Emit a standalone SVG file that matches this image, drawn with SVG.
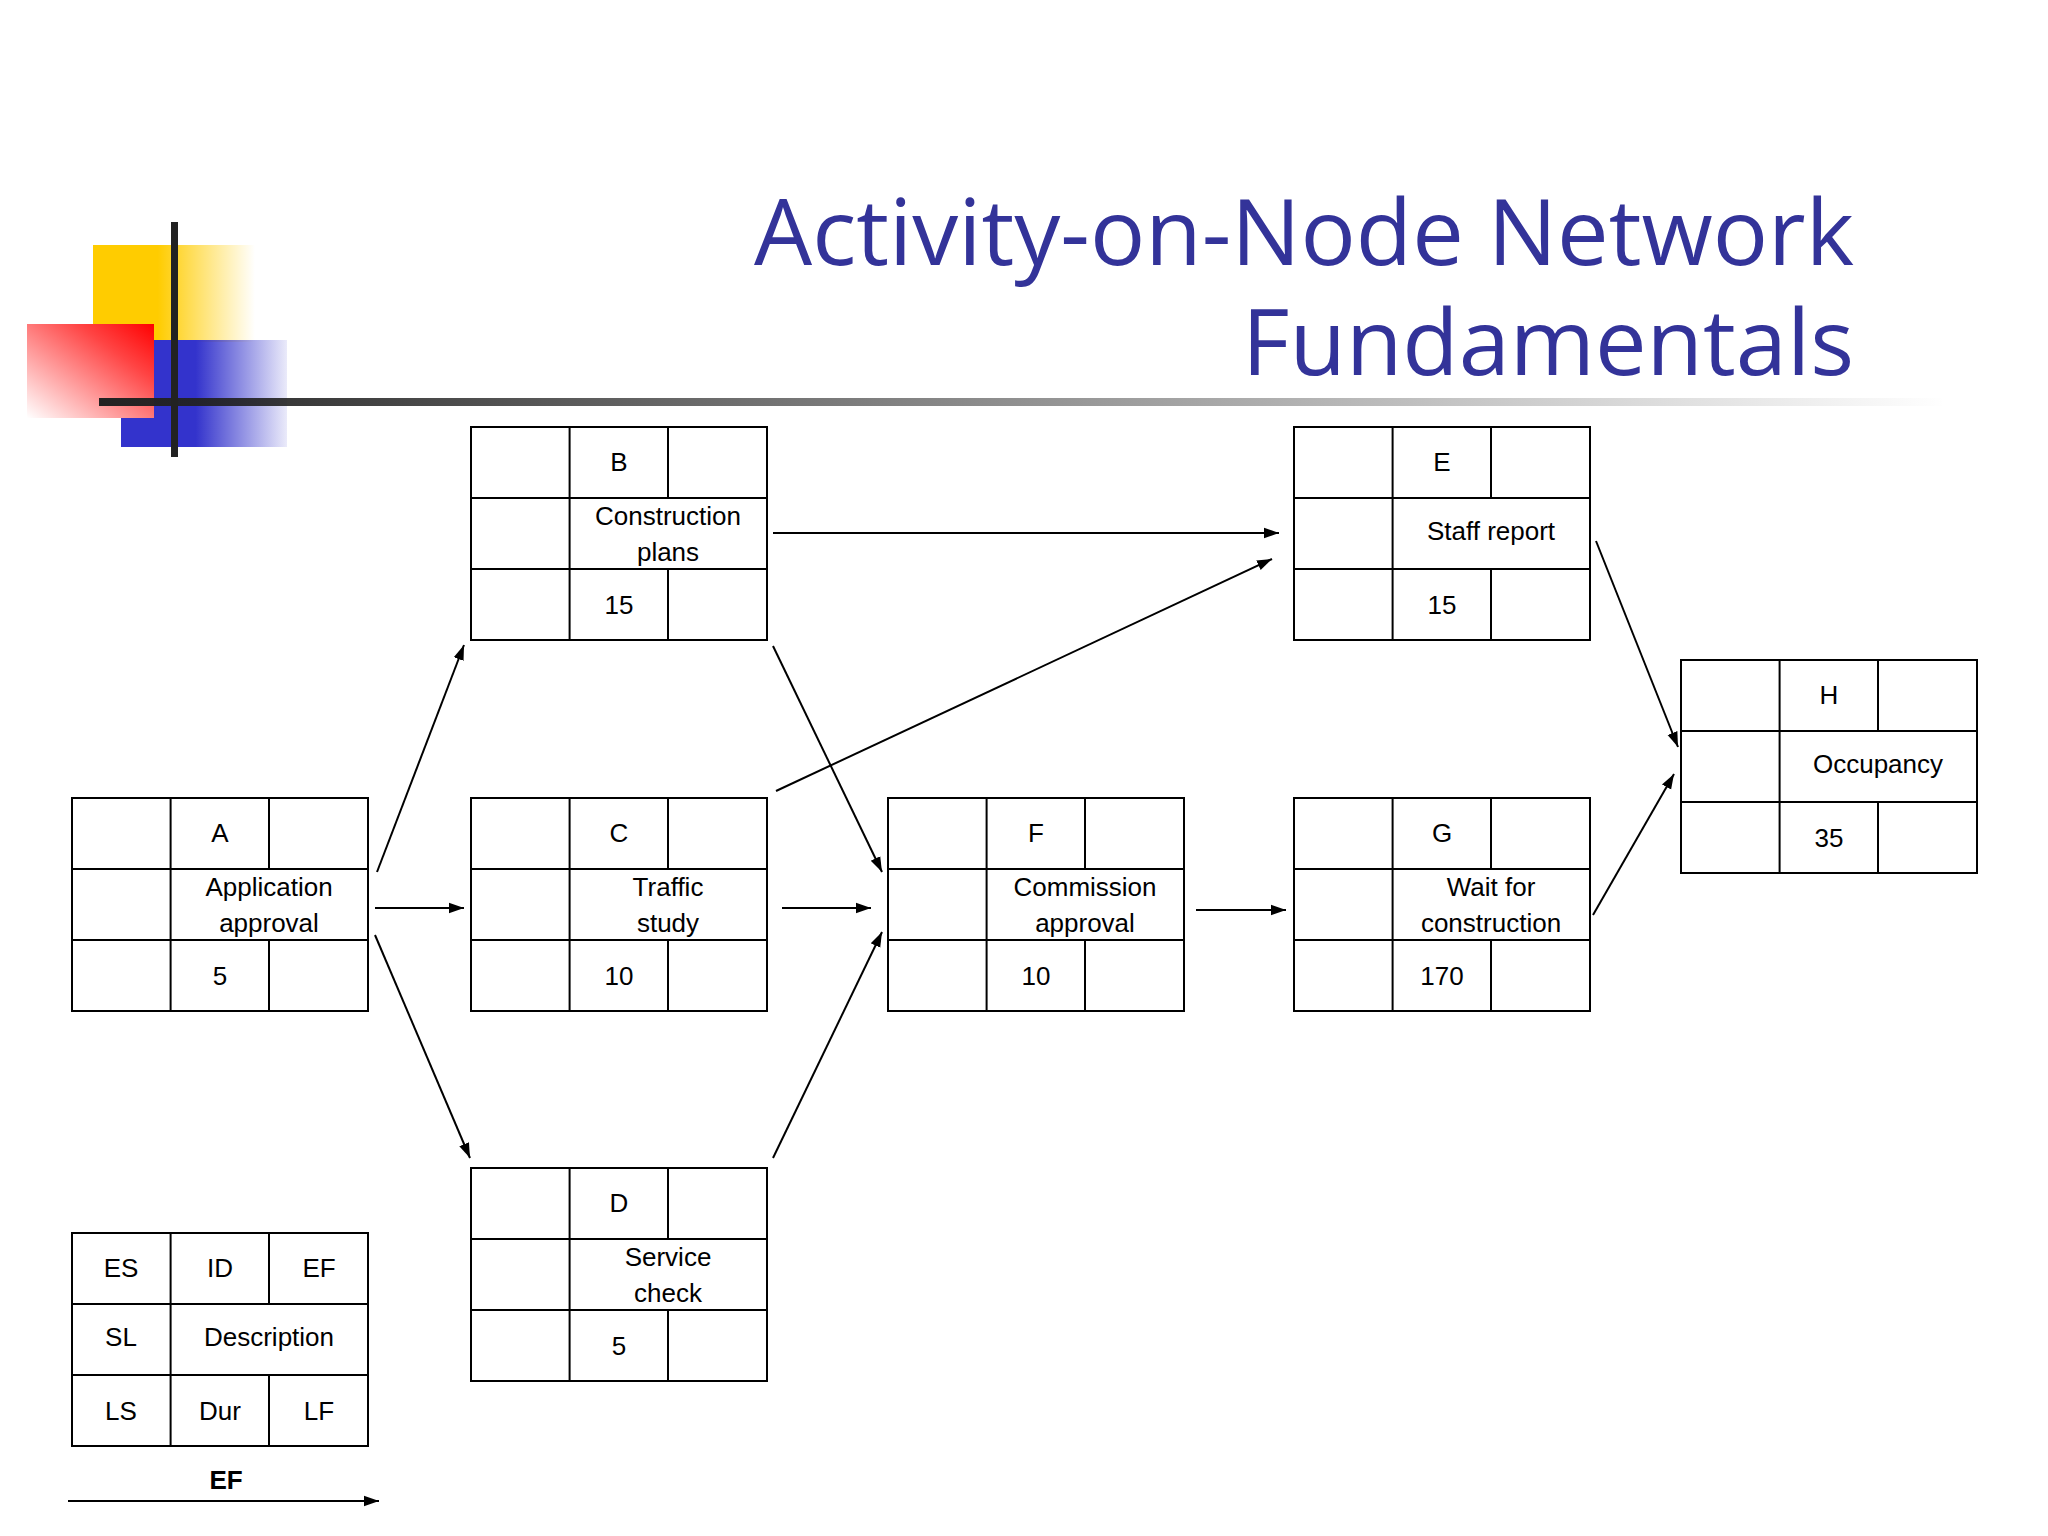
<svg xmlns="http://www.w3.org/2000/svg" width="2048" height="1536" viewBox="0 0 2048 1536">
<defs>
<linearGradient id="gy" x1="0" x2="1"><stop offset="0.4" stop-color="#ffcc00"/><stop offset="1" stop-color="#ffcc00" stop-opacity="0"/></linearGradient>
<linearGradient id="gr" x1="1" y1="0" x2="0" y2="1"><stop offset="0" stop-color="#ff0000"/><stop offset="0.3" stop-color="#ff4444"/><stop offset="1" stop-color="#ffffff"/></linearGradient>
<linearGradient id="gb" x1="0" x2="1"><stop offset="0.45" stop-color="#3333cc"/><stop offset="1" stop-color="#3333cc" stop-opacity="0.1"/></linearGradient>
<linearGradient id="gl" x1="0" x2="1"><stop offset="0" stop-color="#222"/><stop offset="1" stop-color="#222" stop-opacity="0"/></linearGradient>
<marker id="ah" viewBox="0 0 10 10" refX="10" refY="5" markerWidth="15" markerHeight="15" markerUnits="userSpaceOnUse" orient="auto"><path d="M0,1.5 L10,5 L0,8.5 z" fill="#000"/></marker>
<g id="grid">
<rect x="0" y="0" width="296" height="213" fill="#fff" stroke="#000" stroke-width="2"/>
<path d="M0,71 H296 M0,142 H296 M98.6,0 V213 M197,0 V71 M197,142 V213" stroke="#000" stroke-width="2" fill="none"/>
</g>
</defs>
<style>
text{font-family:"Liberation Sans",Arial,sans-serif;font-size:26px;fill:#000;text-anchor:middle}
.t{font-family:"Open Sans","Noto Sans",sans-serif;font-size:92px;fill:#333399;text-anchor:end}
.c line{stroke:#000;stroke-width:2;marker-end:url(#ah)}
</style>
<rect width="2048" height="1536" fill="#fff"/>
<rect x="93" y="245" width="162" height="97" fill="url(#gy)"/>
<rect x="121" y="340" width="166" height="107" fill="url(#gb)"/>
<rect x="27" y="324" width="127" height="94" fill="url(#gr)"/>
<rect x="171" y="222" width="7" height="235" fill="#222"/>
<rect x="99" y="398" width="1847" height="8" fill="url(#gl)"/>
<text class="t" x="1854" y="265">Activity-on-Node Network</text>
<text class="t" x="1854" y="375">Fundamentals</text>

<g id="A" transform="translate(72,798)"><use href="#grid"/><text x="148" y="44">A</text><text x="197" y="98">Application</text><text x="197" y="134">approval</text><text x="148" y="187">5</text></g>
<g id="B" transform="translate(471,427)"><use href="#grid"/><text x="148" y="44">B</text><text x="197" y="98">Construction</text><text x="197" y="134">plans</text><text x="148" y="187">15</text></g>
<g id="C" transform="translate(471,798)"><use href="#grid"/><text x="148" y="44">C</text><text x="197" y="98">Traffic</text><text x="197" y="134">study</text><text x="148" y="187">10</text></g>
<g id="D" transform="translate(471,1168)"><use href="#grid"/><text x="148" y="44">D</text><text x="197" y="98">Service</text><text x="197" y="134">check</text><text x="148" y="187">5</text></g>
<g id="E" transform="translate(1294,427)"><use href="#grid"/><text x="148" y="44">E</text><text x="197" y="113">Staff report</text><text x="148" y="187">15</text></g>
<g id="F" transform="translate(888,798)"><use href="#grid"/><text x="148" y="44">F</text><text x="197" y="98">Commission</text><text x="197" y="134">approval</text><text x="148" y="187">10</text></g>
<g id="G" transform="translate(1294,798)"><use href="#grid"/><text x="148" y="44">G</text><text x="197" y="98">Wait for</text><text x="197" y="134">construction</text><text x="148" y="187">170</text></g>
<g id="H" transform="translate(1681,660)"><use href="#grid"/><text x="148" y="44">H</text><text x="197" y="113">Occupancy</text><text x="148" y="187">35</text></g>
<g id="legend" transform="translate(72,1233)"><use href="#grid"/><text x="49" y="44">ES</text><text x="148" y="44">ID</text><text x="247" y="44">EF</text><text x="49" y="113">SL</text><text x="197" y="113">Description</text><text x="49" y="187">LS</text><text x="148" y="187">Dur</text><text x="247" y="187">LF</text><text x="154" y="256" style="font-weight:bold">EF</text></g>

<g class="c">
<line x1="377" y1="872" x2="464" y2="645"/>
<line x1="375" y1="908" x2="464" y2="908"/>
<line x1="375" y1="935" x2="470" y2="1158"/>
<line x1="773" y1="533" x2="1279" y2="533"/>
<line x1="773" y1="646" x2="882" y2="872"/>
<line x1="776" y1="791" x2="1272" y2="559"/>
<line x1="782" y1="908" x2="871" y2="908"/>
<line x1="773" y1="1158" x2="882" y2="932"/>
<line x1="1196" y1="910" x2="1286" y2="910"/>
<line x1="1596" y1="541" x2="1678" y2="747"/>
<line x1="1593" y1="915" x2="1674" y2="774"/>
<line x1="68" y1="1501" x2="379" y2="1501"/>
</g>
</svg>
